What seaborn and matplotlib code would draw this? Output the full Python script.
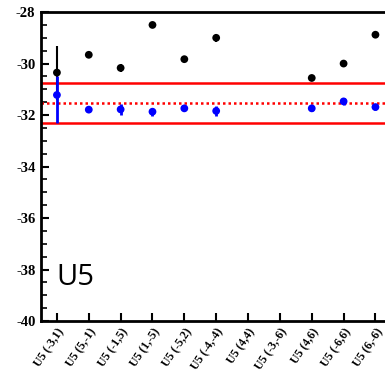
import numpy as np
import pandas as pd
import seaborn as sns
import matplotlib.pyplot as plt
from matplotlib.ticker import MultipleLocator

# tick labels along the x axis
categories = ["U5 (-3,1)", "U5 (5,-1)", "U5 (-1,5)", "U5 (1,-5)", "U5 (-5,2)", "U5 (-4,-4)",
              "U5 (4,4)", "U5 (-3,-6)", "U5 (4,6)", "U5 (-6,6)", "U5 (6,-6)"]

# black series (nan = no point)
black_vals = [-30.35, -29.66, -30.17, -28.50, -29.83, -29.00, np.nan, np.nan, -30.56, -30.00, -28.88]
black_err = [1.05, 0.05, 0.15, 0.05, 0.05, 0.15, np.nan, np.nan, 0.05, 0.05, 0.05]

# blue series, asymmetric errors for the first point
blue_vals = [-31.22, -31.79, -31.78, -31.87, -31.74, -31.84, np.nan, np.nan, -31.74, -31.47, -31.69]
blue_err_lo = [1.09, 0.10, 0.20, 0.15, 0.10, 0.20, np.nan, np.nan, 0.10, 0.15, 0.10]
blue_err_hi = [0.73, 0.10, 0.20, 0.15, 0.10, 0.20, np.nan, np.nan, 0.10, 0.15, 0.10]

# red reference band
band_lo, band_mid, band_hi = -32.31, -31.53, -30.75

df = pd.DataFrame({"label": categories * 2,
                   "value": black_vals + blue_vals,
                   "series": ["black"] * len(categories) + ["blue"] * len(categories)})

sns.set_style("ticks", {"axes.edgecolor": "black", "xtick.color": "black", "ytick.color": "black",
                        "text.color": "black", "axes.labelcolor": "black"})
plt.rcParams["font.family"] = ["Liberation Serif", "DejaVu Serif"]
plt.rcParams["axes.unicode_minus"] = False

fig = plt.figure(figsize=(3.85, 3.77), dpi=100)
ax = fig.add_axes([0.1065, 0.1485, 0.8935, 0.8195])

pos = np.arange(len(categories))
ax.errorbar(pos, black_vals, yerr=black_err, fmt="none", ecolor="black", elinewidth=1.5, capsize=0, zorder=2)
ax.errorbar(pos, blue_vals, yerr=[blue_err_lo, blue_err_hi], fmt="none", ecolor="blue", elinewidth=2, capsize=0, zorder=3)

sns.stripplot(data=df, x="label", y="value", hue="series", order=categories,
              palette={"black": "black", "blue": "blue"}, jitter=False, size=5.6,
              linewidth=0, legend=False, ax=ax, zorder=4)

ax.axhline(band_hi, color="red", lw=1.8, zorder=1)
ax.axhline(band_lo, color="red", lw=1.8, zorder=1)
ax.axhline(band_mid, color="red", lw=1.8, ls=(0, (1, 1.2)), zorder=1)

ax.set_ylim(-40, -28)
ax.set_xlim(-0.5, 10.3)
ax.yaxis.set_major_locator(MultipleLocator(2))
ax.yaxis.set_minor_locator(MultipleLocator(0.5))
ax.tick_params(axis="y", which="major", direction="in", length=6, width=1.5, labelsize=10.5, pad=4, colors="black")
ax.tick_params(axis="y", which="minor", direction="in", length=4, width=1.2, colors="black")
ax.tick_params(axis="x", direction="in", length=6, width=1.5, labelsize=8.5, pad=4, colors="black")
for lab in ax.get_yticklabels() + ax.get_xticklabels():
    lab.set_fontweight("bold")
for lab in ax.get_xticklabels():
    lab.set_rotation(56)
    lab.set_ha("right")
    lab.set_va("top")
    lab.set_rotation_mode("anchor")

for side in ["left", "bottom", "top"]:
    ax.spines[side].set_linewidth(2)
    ax.spines[side].set_color("black")
    ax.spines[side].set_visible(True)
ax.spines["right"].set_visible(False)

ax.set_xlabel("")
ax.set_ylabel("")
ax.text(0.045, 0.14, "U5", transform=ax.transAxes, fontsize=21, family="Open Sans",
        color="black", ha="left", va="center")

fig.savefig("out.png", dpi=100)
